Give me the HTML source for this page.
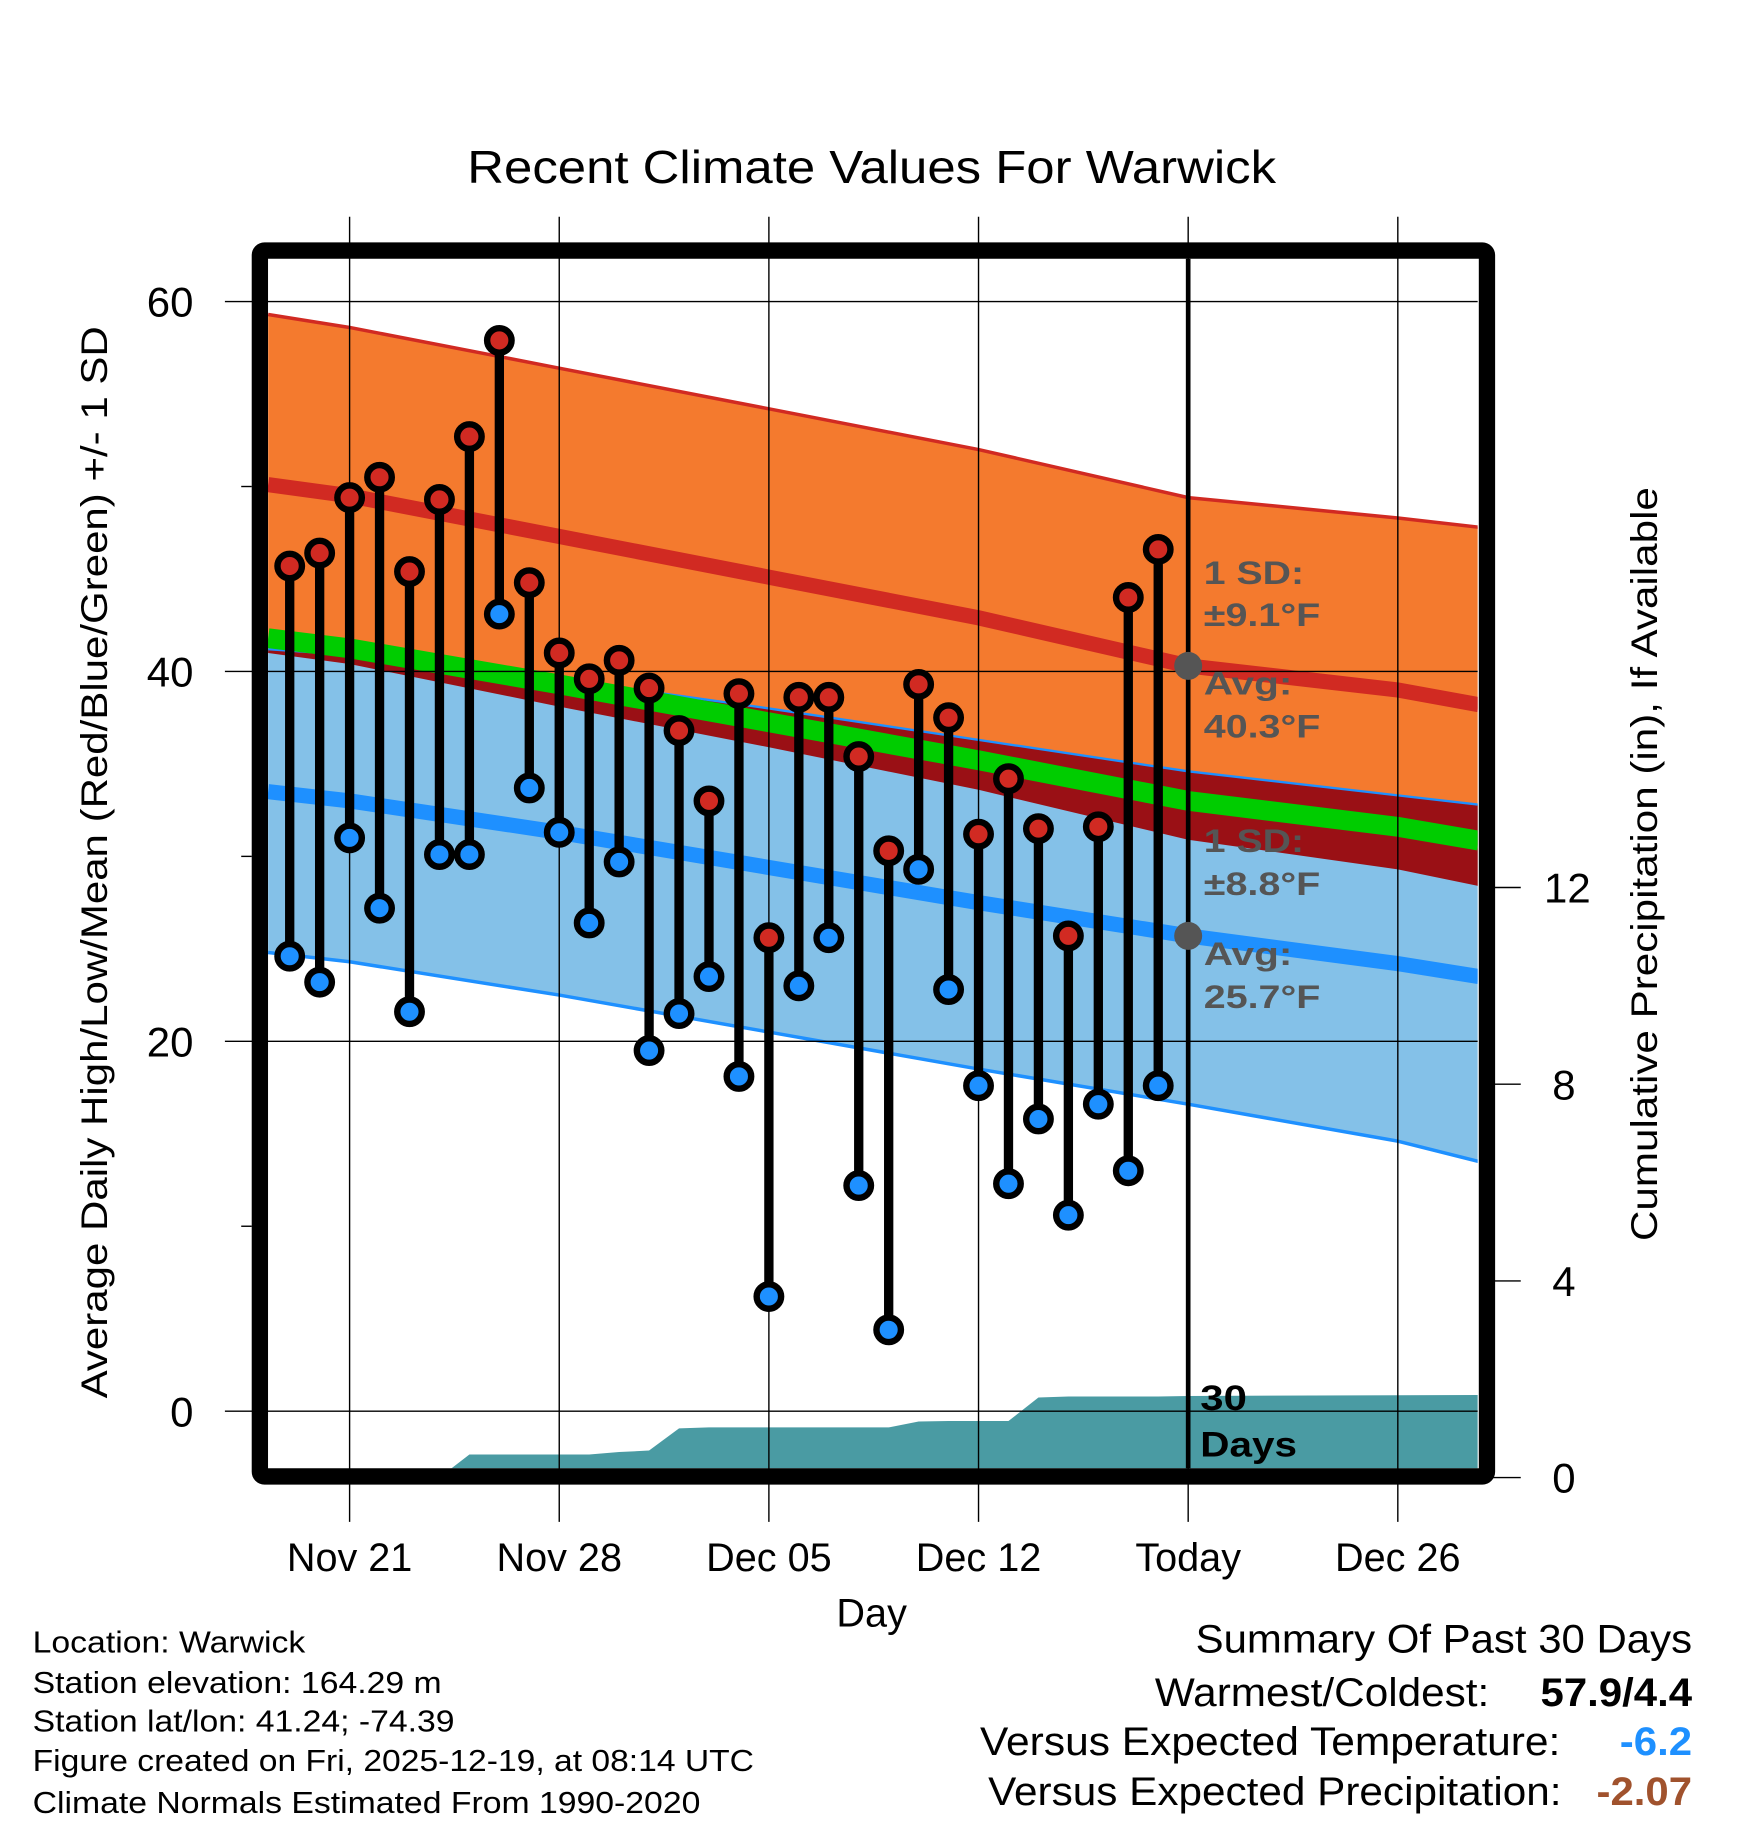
<!DOCTYPE html>
<html><head><meta charset="utf-8"><style>
html,body{margin:0;padding:0;background:#fff}
svg{display:block}
text{font-family:"Liberation Sans",sans-serif}
</style></head><body>
<svg id="chart" width="1748" height="1828" viewBox="0 0 1500 1568.7" preserveAspectRatio="none" xmlns="http://www.w3.org/2000/svg">
<defs><clipPath id="plotclip"><rect x="230" y="222" width="1038" height="1038"/></clipPath></defs>
<g id="plot" clip-path="url(#plotclip)"></g>
<g id="over"></g>
</svg>
<script>
// ---- data ----
const dayOffsets = [-2,-1,0,1,2,3,4,5,6,7,8,9,10,11,12,13,14,15,16,17,18,19,20,21,22,23,24,25,26,27];
const highs = [45.7,46.4,49.4,50.5,45.4,49.3,52.7,57.9,44.8,41.0,39.6,40.6,39.1,36.8,33.0,38.8,25.6,38.6,38.6,35.4,30.3,39.3,37.5,31.2,34.2,31.5,25.7,31.6,44.0,46.6];
const lows = [24.6,23.2,31.0,27.2,21.6,30.1,30.1,43.1,33.7,31.3,26.4,29.7,19.5,21.5,23.5,18.1,6.2,23.0,25.6,12.2,4.4,29.3,22.8,17.6,12.3,15.8,10.6,16.6,13.0,17.6];
const precipCum = [0,0,0,0,0,0,0.47,0.47,0.47,0.47,0.47,0.52,0.55,1.0,1.02,1.02,1.02,1.02,1.02,1.02,1.02,1.14,1.15,1.15,1.15,1.63,1.65,1.65,1.65,1.65];
const normalDays = [-2.72,0,7,14,21,28,35,37.7];
const normalHigh = [50.1,49.5,47.3,45.1,42.9,40.3,39.0,38.2];
const normalLow = [33.5,33.0,31.3,29.4,27.5,25.7,24.2,23.5];
const highUpperSD = [9.2,9.1,9.1,9.1,9.1,9.1,9.3,9.6];
const highLowerSD = [9.1,9.1,9.2,9.2,9.3,9.4,9.7,9.8];
const lowUpperSD = [7.7,7.9,8.3,8.6,8.8,8.9,9.1,9.3];
const lowLowerSD = [8.7,8.7,8.8,8.9,9.0,9.1,9.6,10.0];
const xTickDays = [0,7,14,21,28,35];
const xTickLabels = ["Nov 21","Nov 28","Dec 05","Dec 12","Today","Dec 26"];
const yTicks = [0,20,40,60];
const yMinor = [10,30,50];
const pTicks = [0,4,8,12];
const todayDay = 28;

// ---- axes ----
const X = d => 300 + d*25.7;
const Y = v => 1211 - v*15.87;
const P = v => 1268 - v*42.2;
const NS = "http://www.w3.org/2000/svg";
const plot = document.getElementById('plot');
const over = document.getElementById('over');
function mk(tag, attrs, parent, text){
  const e = document.createElementNS(NS, tag);
  for (const k in attrs) e.setAttribute(k, attrs[k]);
  if (text !== undefined) e.textContent = text;
  parent.appendChild(e); return e;
}
function bandPath(top, bot){
  let s = '';
  normalDays.forEach((d,i)=>{ s += (i?'L':'M') + X(d) + ',' + Y(top[i]) + ' '; });
  for (let i = normalDays.length-1; i>=0; i--) s += 'L' + X(normalDays[i]) + ',' + Y(bot[i]) + ' ';
  return s + 'Z';
}
function linePath(vals){
  return normalDays.map((d,i)=>(i?'L':'M')+X(d)+','+Y(vals[i])).join(' ');
}
const hTop = normalHigh.map((v,i)=>v+highUpperSD[i]), hBot = normalHigh.map((v,i)=>v-highLowerSD[i]);
const lTop = normalLow.map((v,i)=>v+lowUpperSD[i]), lBot = normalLow.map((v,i)=>v-lowLowerSD[i]);
const mid = normalHigh.map((v,i)=>(v+normalLow[i])/2);

let e;
e = mk('path',{d:bandPath(hTop,hBot),fill:'#f47a2e'},plot);
 
e = mk('path',{d:linePath(hTop),fill:'none',stroke:'#d12a22','stroke-width':3},plot);
 
e = mk('path',{d:bandPath(lTop,lBot),fill:'#84c1e8'},plot);
 
const ovT = lTop.map((v,i)=>Math.max(v,hBot[i]));
e = mk('path',{d:bandPath(ovT,hBot),fill:'#9a1015'},plot);
 
e = mk('path',{d:linePath(lTop),fill:'none',stroke:'#1e90ff','stroke-width':2},plot);
 
e = mk('path',{d:linePath(lBot),fill:'none',stroke:'#1e90ff','stroke-width':3},plot);
 
e = mk('path',{d:linePath(mid),fill:'none',stroke:'#00cc00','stroke-width':17},plot);
 
e = mk('path',{d:linePath(normalHigh),fill:'none',stroke:'#d12a22','stroke-width':13},plot);
 
e = mk('path',{d:linePath(normalLow),fill:'none',stroke:'#1e90ff','stroke-width':13},plot);
 

// precip area
let pd = 'M'+X(dayOffsets[0])+','+P(0)+' ';
dayOffsets.forEach((d,i)=>{ pd += 'L'+X(d)+','+P(precipCum[i])+' '; });
const lastP = precipCum[precipCum.length-1];
pd += 'L'+X(todayDay)+','+P(lastP+0.01)+' L'+X(37.7)+','+P(lastP+0.03)+' L'+X(37.7)+','+P(-1)+' L'+X(dayOffsets[0])+','+P(-1)+' Z';
e = mk('path',{d:pd,fill:'#4a9ba3'},plot);
 

// grid
xTickDays.forEach(d=>{
  e = mk('line',{x1:X(d),x2:X(d),y1:186,y2:1306,stroke:'#000','stroke-width':1.2},over);
   
});
yTicks.forEach(v=>{
  e = mk('line',{x1:193,x2:1268,y1:Y(v),y2:Y(v),stroke:'#000','stroke-width':1.2},over);
   
  e = mk('text',{x:166,y:Y(v)+13,'text-anchor':'end','font-size':36},over,String(v));
   
});
yMinor.forEach(v=>{
  e = mk('line',{x1:207,x2:216,y1:Y(v),y2:Y(v),stroke:'#000','stroke-width':1.2},over);
   
});
pTicks.forEach(v=>{
  e = mk('line',{x1:1280,x2:1305,y1:P(v),y2:P(v),stroke:'#000','stroke-width':1.2},over);
   
  e = mk('text',{x:v>=10?1325:1332,y:P(v)+13,'font-size':36},over,String(v));
   
});
xTickLabels.forEach((t,i)=>{
  e = mk('text',{x:X(xTickDays[i]),y:1348,'text-anchor':'middle','font-size':34},over,t);
   
});

// today line
e = mk('line',{x1:X(todayDay),x2:X(todayDay),y1:222,y2:1260,stroke:'#000','stroke-width':4},over);
 

// stems and dots
dayOffsets.forEach((d,i)=>{
  e = mk('line',{x1:X(d),x2:X(d),y1:Y(highs[i]),y2:Y(lows[i]),stroke:'#000','stroke-width':8},over);
   
});
dayOffsets.forEach((d,i)=>{
  e = mk('circle',{cx:X(d),cy:Y(highs[i]),r:10.5,fill:'#d12a22',stroke:'#000','stroke-width':5.5},over);
   
  e = mk('circle',{cx:X(d),cy:Y(lows[i]),r:10.5,fill:'#1e90ff',stroke:'#000','stroke-width':5.5},over);
   
});
const todayHigh = normalHigh[5], todayLow = normalLow[5];
e = mk('circle',{cx:X(todayDay),cy:Y(todayHigh),r:12,fill:'#555'},over);
 
e = mk('circle',{cx:X(todayDay),cy:Y(todayLow),r:12,fill:'#555'},over);
 
</script>
<script>
(function(){
const NS="http://www.w3.org/2000/svg";
const over=document.getElementById('over');
function t(x,y,s,txt,o,name,len){
  const e=document.createElementNS(NS,'text');
  e.setAttribute('x',x);e.setAttribute('y',y);e.setAttribute('font-size',s);
  for(const k in (o||{})) e.setAttribute(k,o[k]);
  if(len){e.setAttribute('textLength',len);e.setAttribute('lengthAdjust','spacingAndGlyphs');}
  e.textContent=txt;
  
  
  over.appendChild(e);return e;
}
const g={fill:'#555','font-weight':'bold'};
t(1033,501,28,'1 SD:',g,'high-sd-label',86);
t(1033,537,28,'±9.1°F',g,'high-sd-value',100);
t(1033,596,28,'Avg:',g,'high-avg-label',76);
t(1033,633,28,'40.3°F',g,'high-avg-value',100);
t(1033,731,28,'1 SD:',g,'low-sd-label',86);
t(1033,768,28,'±8.8°F',g,'low-sd-value',100);
t(1033,828,28,'Avg:',g,'low-avg-label',76);
t(1033,865,28,'25.7°F',g,'low-avg-value',100);
t(1030,1210,30,'30',{'font-weight':'bold'},'days-label-30',40);
t(1030,1250,30,'Days',{'font-weight':'bold'},'days-label',83);
// frame
const r=document.createElementNS(NS,'rect');
r.setAttribute('x',223);r.setAttribute('y',215);r.setAttribute('width',1053);r.setAttribute('height',1052);
r.setAttribute('rx',4);r.setAttribute('fill','none');r.setAttribute('stroke','#000');r.setAttribute('stroke-width',14);


over.appendChild(r);
t(401,157,40,'Recent Climate Values For Warwick',{},'chart-title',694);
t(748,1396,34,'Day',{'text-anchor':'middle'},'x-axis-title');
t(0,0,32,'Average Daily High/Low/Mean (Red/Blue/Green) +/- 1 SD',{transform:'translate(92,1200) rotate(-90)'},'y-axis-title',920);
t(0,0,32,'Cumulative Precipitation (in), If Available',{transform:'translate(1422,1065) rotate(-90)'},'precip-axis-title',647);
const info=['Location: Warwick','Station elevation: 164.29 m','Station lat/lon: 41.24; -74.39','Figure created on Fri, 2025-12-19, at 08:14 UTC','Climate Normals Estimated From 1990-2020'];
const ilen=[234,351,362,619,573];
const iy=[1418,1453,1486,1520,1556];
info.forEach((s,i)=>t(28,iy[i],26,s,{},'station-info-line',ilen[i]));
t(1026,1418,34,'Summary Of Past 30 Days',{},'summary-title',426);
t(991,1464,34,'Warmest/Coldest:',{},'warmest-coldest-label',287);
t(1322,1464,34,'57.9/4.4',{'font-weight':'bold'},'warmest-coldest-value',130);
t(841,1506,34,'Versus Expected Temperature:',{},'temp-anomaly-label',498);
t(1390,1506,34,'-6.2',{'font-weight':'bold',fill:'#1e90ff'},'temp-anomaly-value',62);
t(848,1549,34,'Versus Expected Precipitation:',{},'precip-anomaly-label',492);
t(1370,1549,34,'-2.07',{'font-weight':'bold',fill:'#a0522d'},'precip-anomaly-value',82);
})();
</script>
</body></html>
